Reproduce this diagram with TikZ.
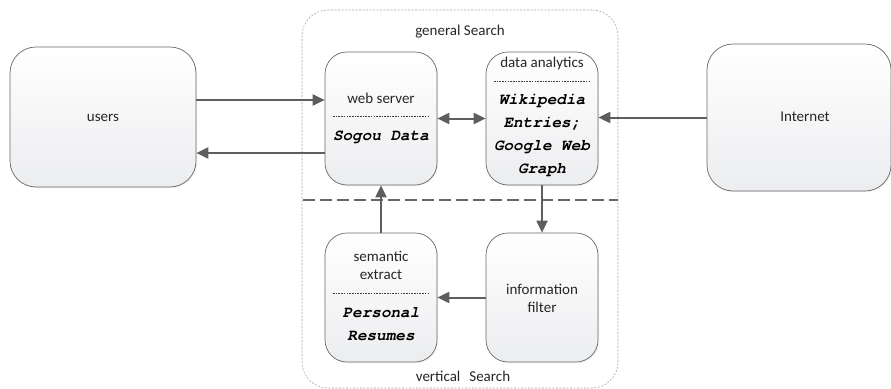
\documentclass[tikz,border=0pt]{standalone}
\usepackage{fontspec}
\setmainfont{Carlito}
\newfontfamily\monofam{TeX Gyre Cursor}
\usetikzlibrary{arrows.meta,shadows}
\definecolor{arrowgray}{HTML}{5E5E5E}
\definecolor{boxline}{HTML}{6A6A6A}
\definecolor{boxbottom}{HTML}{ECEDEF}
\definecolor{contline}{HTML}{A8A8A8}
\tikzset{
  box/.style={draw=boxline, line width=0.7pt, top color=white, bottom color=boxbottom,
    drop shadow={opacity=0.12, shadow xshift=1.2pt, shadow yshift=-1.2pt},
    inner sep=0pt},
  bigbox/.style={box, rounded corners=26pt},
  smallbox/.style={box, rounded corners=22pt, minimum width=112pt},
  lbl/.style={font=\fontsize{15}{17}\selectfont, text=black!85, inner sep=0pt, align=center},
  mlbl/.style={font=\monofam\bfseries\itshape\fontsize{16}{23}\selectfont, inner sep=0pt, align=center},
  arr/.style={draw=arrowgray, line width=2pt, -{Triangle[length=12pt,width=11pt]}},
  darr/.style={draw=arrowgray, line width=2pt, {Triangle[length=12pt,width=11pt]}-{Triangle[length=12pt,width=11pt]}},
  inner/.style={draw=black!75, line width=0.5pt, dash pattern=on 1.6pt off 1.1pt},
  cont/.style={draw=contline, line width=0.6pt, dash pattern=on 2pt off 1.5pt, rounded corners=26pt},
  sepline/.style={draw=black!60, line width=2pt, dash pattern=on 12pt off 5pt}
}
\begin{document}
\begin{tikzpicture}[x=1pt,y=-1pt]
\useasboundingbox (0,0) rectangle (891,388);
% container
\node[cont, minimum width=316pt, minimum height=378pt] (cont) at (460,199) {};
\node[lbl] (gen) at (460,32) {general Search};
\node[lbl] (vert) at (463,376) {vertical\hspace{0.6em}Search};
% boxes
\node[bigbox, minimum width=186pt, minimum height=140pt] (users) at (103,117) {};
\node[lbl] (userst) at (103,118) {users};
\node[bigbox, minimum width=184pt, minimum height=147pt] (inet) at (799,117.5) {};
\node[lbl] (inett) at (805,117) {Internet};
\node[smallbox, minimum height=133pt] (ws) at (381,118.5) {};
\node[smallbox, minimum height=133pt] (da) at (542,118.5) {};
\node[smallbox, minimum height=129pt] (sem) at (381,297.5) {};
\node[smallbox, minimum height=129pt] (info) at (542,297.5) {};
% web server content
\node[lbl] (wst) at (381,98) {web server};
\draw[inner] (333,116) -- (428,116);
\node[mlbl] (wsd) at (381,137) {Sogou Data};
% data analytics content
\node[lbl] (dat) at (542,63) {data analytics};
\draw[inner] (494,81) -- (590,81);
\node[mlbl] (dad) at (542,135.5) {Wikipedia\\Entries;\\Google Web\\Graph};
% semantic extract content
\node[lbl, font=\fontsize{15}{18}\selectfont] (semt) at (381,265) {semantic\\extract};
\draw[inner] (333,293) -- (428,293);
\node[mlbl] (semd) at (381,324.5) {Personal\\Resumes};
% information filter
\node[lbl, font=\fontsize{15}{18}\selectfont] (infot) at (542,298) {information\\filter};
% separator
\coordinate (sepL) at (303,200);
\coordinate (sepR) at (618,200);
\draw[sepline] (sepL) -- (sepR);
% arrows
\draw[arr] ([yshift=17pt]users.east) -- ([yshift=17pt]users.east -| ws.west);
\draw[arr] ([yshift=-36pt]users.east -| ws.west) -- ([yshift=-36pt]users.east);
\draw[darr] (ws.east) -- (da.west);
\draw[arr] (inet.west) -- (inet.west -| da.east);
\draw[arr] (da.south) -- (info.north);
\draw[arr] (info.west) -- (sem.east);
\draw[arr] (sem.north) -- (ws.south);
\end{tikzpicture}
\end{document}
